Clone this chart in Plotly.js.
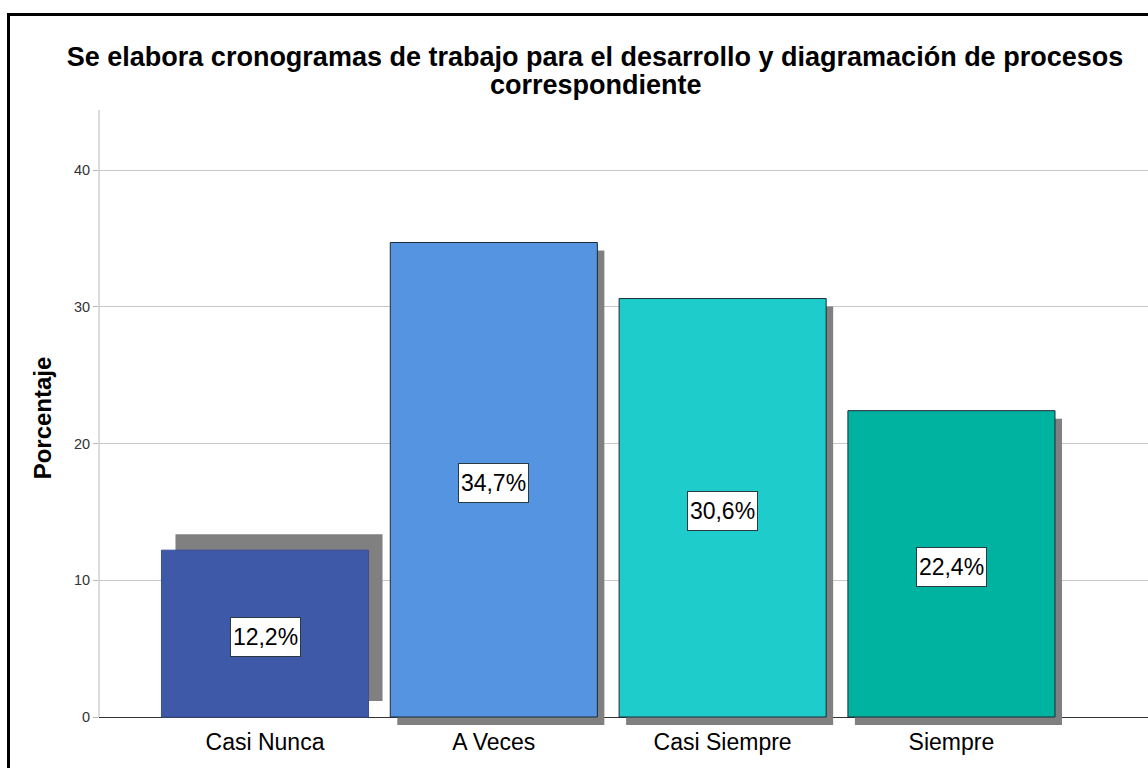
<!DOCTYPE html>
<html>
<head>
<meta charset="utf-8">
<script src="https://cdn.plot.ly/plotly-3.0.1.min.js"></script>
<style>
  html, body { margin: 0; padding: 0; background: #ffffff; }
  #wrap { position: relative; width: 1148px; height: 768px; overflow: hidden; }
  #chart { position: absolute; left: 0; top: 0; width: 1148px; height: 768px; }
  #frame { position: absolute; left: 7px; top: 13px; width: 1200px; height: 800px;
           border-top: 3px solid #000; border-left: 3px solid #000; pointer-events: none; }
</style>
</head>
<body>
<div id="wrap">
  <div id="chart"></div>
  <div id="frame"></div>
</div>
<script>
// ---- data ----
const categories = ['Casi Nunca', 'A Veces', 'Casi Siempre', 'Siempre'];
const percentages = [12.2, 34.7, 30.6, 22.4];
const yTickValues = [0, 10, 20, 30, 40];
const titleLine1 = 'Se elabora cronogramas de trabajo para el desarrollo y diagramación de procesos';
const titleLine2 = 'correspondiente';
const yAxisTitle = 'Porcentaje';

// ---- styling / layout constants ----
const FONT = 'Liberation Sans, Arial, sans-serif';
const barColors = ['#3D59A8', '#5494E0', '#1ECDCB', '#00B2A0'];
const barEdgeColors = ['#3a4f96', '#1c2a36', '#1c2a36', '#1c2a36'];
const shadowColor = '#808080';
const W = 1148, H = 768;
const margin = { l: 99, r: 0, t: 110, b: 42 };
const pxPerUnit = 13.675;          // vertical scale (px per percentage point)
const baselineGap = 9;             // px of plot area kept below the 0 line for the shadows
const plotW = W - margin.l - margin.r;
const plotH = H - margin.t - margin.b;
const yRange = [-baselineGap / pxPerUnit, (plotH - baselineGap) / pxPerUnit];
const xRange = [-0.7255, 3.859];
const barWidth = 0.905;
// shadow displacement in pixels (right, down)
const shadowDx = [14, 7, 7, 7];
const shadowDy = [-16, 8, 8, 8];
const pxPerCat = plotW / (xRange[1] - xRange[0]);

const shadowTrace = {
  type: 'bar',
  x: categories,
  y: percentages,
  base: shadowDy.map(d => -d / pxPerUnit),
  offset: shadowDx.map(d => -barWidth / 2 + d / pxPerCat),
  width: barWidth,
  marker: { color: shadowColor, line: { width: 0 } },
  hoverinfo: 'skip',
  showlegend: false
};

const barTrace = {
  type: 'bar',
  x: categories,
  y: percentages,
  width: barWidth,
  marker: { color: barColors, line: { color: barEdgeColors, width: 1 } },
  hovertemplate: '%{x}: %{y:.1f}%<extra></extra>',
  showlegend: false
};

const labelAnnotations = categories.map((c, i) => ({
  x: c,
  y: percentages[i] / 2,
  xref: 'x', yref: 'y',
  text: percentages[i].toFixed(1).replace('.', ',') + '%',
  showarrow: false,
  font: { family: FONT, size: 23, color: '#000' },
  bgcolor: '#ffffff',
  bordercolor: '#2a3a40',
  borderwidth: 1,
  borderpad: 2,
  width: 65,
  height: 34,
  yshift: -3
}));

const titleCenterX = (596 - margin.l) / plotW;

const layout = {
  width: W, height: H,
  margin: margin,
  paper_bgcolor: '#ffffff',
  plot_bgcolor: '#ffffff',
  barmode: 'overlay',
  showlegend: false,
  title: {
    text: titleLine1,
    font: { family: FONT, size: 27, color: '#000', weight: 'bold' },
    x: 595 / W, xanchor: 'center',
    y: 1 - 57 / H, yref: 'container', yanchor: 'middle'
  },
  xaxis: {
    type: 'category',
    range: xRange,
    showgrid: false,
    zeroline: false,
    showline: false,
    ticks: '',
    ticklabelstandoff: 0,
    tickfont: { family: FONT, size: 23, color: '#000' },
    fixedrange: true
  },
  yaxis: {
    range: yRange,
    tickvals: yTickValues,
    ticktext: yTickValues.map(String),
    showgrid: true,
    gridcolor: '#c8c8c8',
    gridwidth: 1,
    zeroline: true,
    zerolinecolor: '#333333',
    zerolinewidth: 1,
    showline: false,
    ticks: 'outside',
    ticklen: 5,
    tickcolor: '#b8b8b8',
    tickfont: { family: FONT, size: 14.5, color: '#333' },
    title: {
      text: yAxisTitle,
      font: { family: FONT, size: 24, color: '#000', weight: 'bold' },
      standoff: 15
    },
    automargin: false,
    fixedrange: true
  },
  shapes: [{
    type: 'line', layer: 'above',
    xref: 'paper', yref: 'y',
    x0: 0, x1: 0, y0: 0, y1: yRange[1],
    line: { color: '#b8b8b8', width: 1 }
  }],
  annotations: labelAnnotations.concat([{
    xref: 'paper', yref: 'paper',
    x: titleCenterX, xanchor: 'center',
    y: 1 + (margin.t - 85) / plotH, yanchor: 'middle',
    text: titleLine2,
    showarrow: false,
    font: { family: FONT, size: 27, color: '#000', weight: 'bold' }
  }])
};

Plotly.newPlot('chart', [shadowTrace, barTrace], layout, { displayModeBar: false, staticPlot: true });
</script>
</body>
</html>
